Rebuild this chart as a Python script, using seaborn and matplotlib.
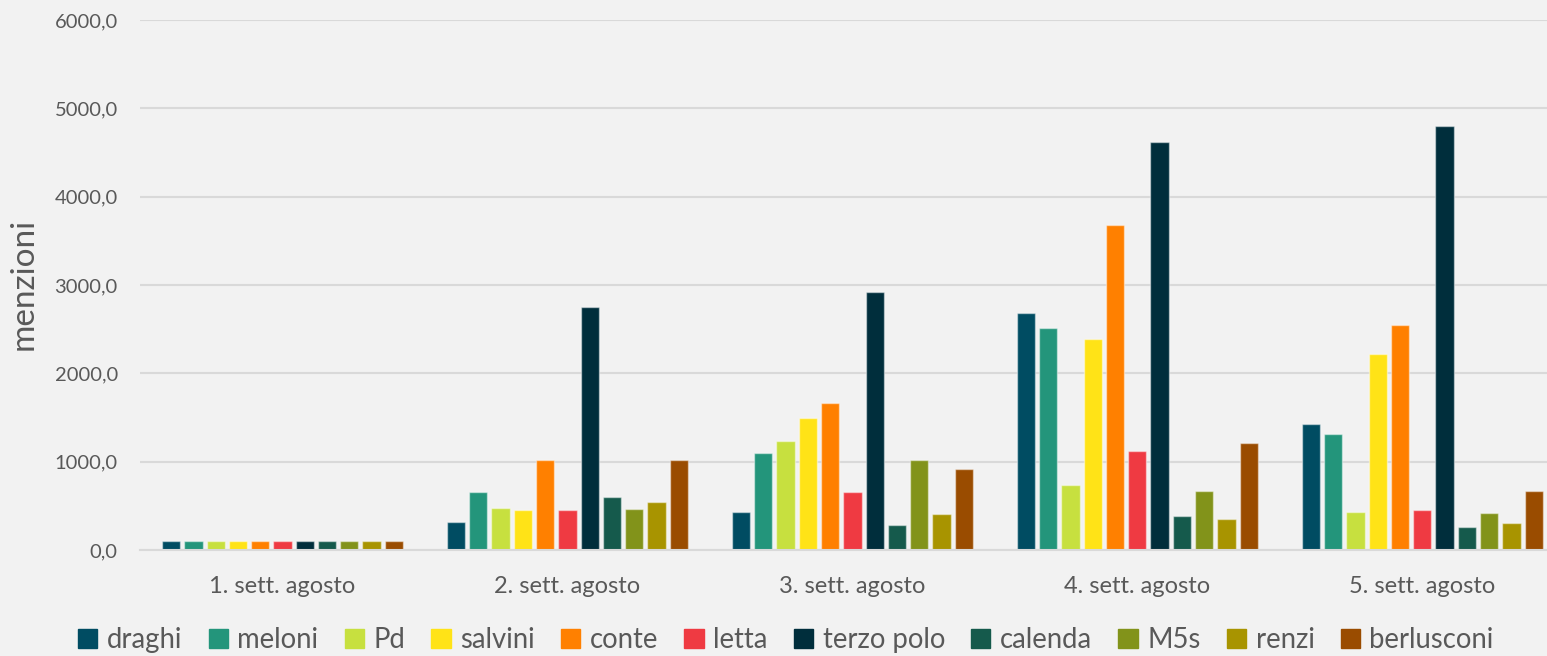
import numpy as np
import pandas as pd
import matplotlib
matplotlib.use("Agg")
import matplotlib.pyplot as plt
import seaborn as sns
from matplotlib.ticker import FuncFormatter, MultipleLocator

# dati
settimane = ["1. sett. agosto", "2. sett. agosto", "3. sett. agosto",
             "4. sett. agosto", "5. sett. agosto"]
soggetti = ["draghi", "meloni", "Pd", "salvini", "conte", "letta",
            "terzo polo", "calenda", "M5s", "renzi", "berlusconi"]

draghi = [100, 320, 430, 2683, 1426]
meloni = [100, 660, 1102, 2510, 1313]
pd_ = [100, 480, 1238, 732, 427]
salvini = [100, 453, 1495, 2385, 2219]
conte = [100, 1022, 1660, 3679, 2544]
letta = [100, 456, 657, 1117, 453]
terzo_polo = [100, 2747, 2921, 4615, 4800]
calenda = [100, 603, 283, 385, 260]
m5s = [100, 468, 1022, 664, 415]
renzi = [100, 539, 408, 351, 306]
berlusconi = [100, 1015, 920, 1211, 668]

colori = ["#004C62", "#23957B", "#C7E03F", "#FFE317", "#FF8000", "#EF3A42",
          "#002E3C", "#155A4C", "#82931A", "#A89400", "#9A4C00"]

serie = [draghi, meloni, pd_, salvini, conte, letta,
         terzo_polo, calenda, m5s, renzi, berlusconi]
righe = []
for nome, valori in zip(soggetti, serie):
    for sett, v in zip(settimane, valori):
        righe.append({"settimana": sett, "soggetto": nome, "menzioni": v})
df = pd.DataFrame(righe)

sns.set_style("white")
plt.rcParams["font.family"] = ["Lato", "DejaVu Sans"]
bg = "#F2F2F2"
testo = "#595959"

fig = plt.figure(figsize=(15.47, 6.56), dpi=100, facecolor=bg)
ax = fig.add_axes([0.0905, 0.1616, 0.921, 0.808])
ax.set_facecolor(bg)

sns.barplot(data=df, x="settimana", y="menzioni", hue="soggetto",
            hue_order=soggetti, order=settimane, palette=colori,
            saturation=1, width=0.86, gap=0.18, ax=ax, legend=False,
            edgecolor=(1, 1, 1, 0.45), linewidth=1)

ax.set_ylim(0, 6000)
ax.yaxis.set_major_locator(MultipleLocator(1000))
ax.yaxis.set_major_formatter(FuncFormatter(lambda v, p: f"{v:.1f}".replace(".", ",")))
ax.grid(axis="y", color="#D9D9D9", linewidth=1.5)
ax.set_axisbelow(True)
for s in ["top", "right", "left"]:
    ax.spines[s].set_visible(False)
ax.spines["bottom"].set_color("#D9D9D9")
ax.spines["bottom"].set_linewidth(1.5)
ax.tick_params(axis="y", length=0, labelsize=14.5, colors=testo, pad=16)
ax.tick_params(axis="x", length=0, labelsize=17, colors=testo, pad=19)
ax.set_xlabel("")
ax.set_ylabel("menzioni", fontsize=24, color=testo)
ax.yaxis.set_label_coords(-0.071, 0.502)
ax.set_xlim(-0.5, 4.5)

handles = [plt.Rectangle((0, 0), 1, 1, color=c) for c in colori]
fig.legend(handles, soggetti, loc="lower center", ncol=11, frameon=False,
           bbox_to_anchor=(0.508, -0.033), fontsize=19.8, handlelength=0.7,
           handleheight=0.7, handletextpad=0.35, columnspacing=0.95,
           labelcolor=testo)

fig.savefig("out.png", dpi=100, facecolor=bg)
